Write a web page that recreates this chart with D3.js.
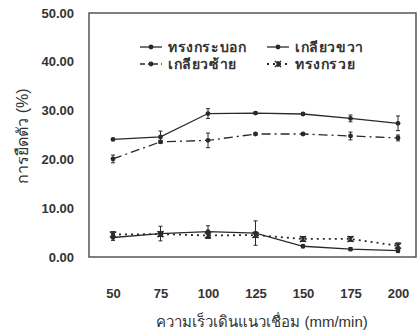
<!DOCTYPE html>
<html><head><meta charset="utf-8">
<script src="https://cdn.jsdelivr.net/npm/d3@7/dist/d3.min.js"></script>
<style>
body{margin:0;background:#fff;}
svg{display:block;font-family:"Liberation Sans",Arial,"Noto Sans",sans-serif;}
</style></head><body>
<svg id="c" width="419" height="334"></svg>
<script>
const speeds = [50, 75, 100, 125, 150, 175, 200];
const yTicks = [0, 10, 20, 30, 40, 50];
const seriesNames = ["ทรงกระบอก", "เกลียวขวา", "เกลียวซ้าย", "ทรงกรวย"];
const cylinder = [4.0, 4.8, 5.2, 4.9, 2.2, 1.6, 1.3];
const cylinderErr = [0.6, 1.5, 1.2, 2.5, 0.3, 0.3, 0.4];
const rightThread = [24.1, 24.6, 29.4, 29.5, 29.3, 28.4, 27.4];
const rightThreadErr = [0.2, 1.2, 1.0, 0.2, 0.2, 0.7, 1.5];
const leftThread = [20.1, 23.6, 23.9, 25.2, 25.2, 24.8, 24.4];
const leftThreadErr = [0.8, 0.3, 1.5, 0.2, 0.2, 0.8, 0.6];
const cone = [4.6, 4.7, 4.4, 4.5, 3.7, 3.7, 2.3];
const coneErr = [0.6, 0.5, 0.6, 0.5, 0.5, 0.5, 0.6];
const xTitle = "ความเร็วเดินแนวเชื่อม (mm/min)";
const yTitle = "การยืดตัว (%)";

const svg = d3.select("#c");
const x = d3.scaleLinear().domain([50, 200]).range([113, 398]);
const y = d3.scaleLinear().domain([0, 50]).range([257, 13]);
const ink = "#2a2a2a";

// frame
svg.append("rect").attr("x", 89).attr("y", 13).attr("width", 327).attr("height", 244)
  .attr("fill", "none").attr("stroke", "#555").attr("stroke-width", 1.5);

// y axis labels
const ya = svg.append("g").attr("transform", "translate(74,0)")
  .call(d3.axisLeft(y).tickValues(yTicks).tickFormat(d3.format(".2f")).tickSize(0).tickPadding(0));
ya.select(".domain").remove();
ya.selectAll("text").attr("font-size", 13).attr("font-weight", "bold").attr("fill", "#333")
  .attr("font-family", "Liberation Sans, Arial, sans-serif");

// x axis labels
const xa = svg.append("g").attr("transform", "translate(0,289)")
  .call(d3.axisBottom(x).tickValues(speeds).tickFormat(d3.format("d")).tickSize(0).tickPadding(0));
xa.select(".domain").remove();
xa.selectAll("text").attr("font-size", 13).attr("font-weight", "bold").attr("fill", "#333")
  .attr("font-family", "Liberation Sans, Arial, sans-serif");

// titles
svg.append("text").attr("x", 262).attr("y", 327).attr("text-anchor", "middle")
  .attr("font-size", 15).attr("fill", "#333").text(xTitle);
svg.append("text").attr("transform", "translate(28,136) rotate(-90)").attr("text-anchor", "middle")
  .attr("font-size", 16).attr("fill", "#333").text(yTitle);

const series = [
  {name: seriesNames[0], vals: cylinder, err: cylinderErr, dash: null, marker: "dot"},
  {name: seriesNames[1], vals: rightThread, err: rightThreadErr, dash: null, marker: "dot"},
  {name: seriesNames[2], vals: leftThread, err: leftThreadErr, dash: "9,4,2,4", marker: "dot"},
  {name: seriesNames[3], vals: cone, err: coneErr, dash: "2,4", marker: "star"}
];

const line = d3.line().x((d, i) => x(speeds[i])).y(d => y(d));

function drawMarker(g, cx, cy, type) {
  if (type === "dot") {
    g.append("circle").attr("cx", cx).attr("cy", cy).attr("r", 2.4).attr("fill", ink);
  } else {
    const s = 3;
    g.append("path").attr("d", `M${cx-s},${cy-s}L${cx+s},${cy+s}M${cx-s},${cy+s}L${cx+s},${cy-s}M${cx},${cy-s}L${cx},${cy+s}`)
      .attr("stroke", ink).attr("stroke-width", 1.6).attr("fill", "none");
  }
}

series.forEach(s => {
  const g = svg.append("g");
  g.append("path").datum(s.vals).attr("d", line).attr("fill", "none").attr("stroke", ink)
    .attr("stroke-width", s.dash === "2,4" ? 1.8 : 1.3).attr("stroke-dasharray", s.dash);
  s.vals.forEach((v, i) => {
    const cx = x(speeds[i]), e = s.err[i];
    if (e > 0) {
      const y1 = y(v + e), y2 = y(v - e);
      g.append("path").attr("d", `M${cx},${y1}L${cx},${y2}M${cx-2},${y1}L${cx+2},${y1}M${cx-2},${y2}L${cx+2},${y2}`)
        .attr("stroke", ink).attr("stroke-width", 1).attr("fill", "none");
    }
    drawMarker(g, cx, y(v), s.marker);
  });
});

// legend
const legendPos = [[140, 47], [267, 47], [140, 64], [267, 64]];
series.forEach((s, i) => {
  const [lx, ly] = legendPos[i];
  const g = svg.append("g");
  g.append("line").attr("x1", lx).attr("x2", lx + 22).attr("y1", ly).attr("y2", ly)
    .attr("stroke", ink).attr("stroke-width", s.dash === "2,4" ? 1.8 : 1.3)
    .attr("stroke-dasharray", s.dash === "9,4,2,4" ? "5,3,2,3" : s.dash);
  drawMarker(g, lx + 11, ly, s.marker);
  g.append("text").attr("x", lx + 28).attr("y", ly + 5).attr("font-size", 14)
    .attr("font-weight", "bold").attr("letter-spacing", 0.6).attr("fill", "#333").text(s.name);
});
</script>
</body></html>
